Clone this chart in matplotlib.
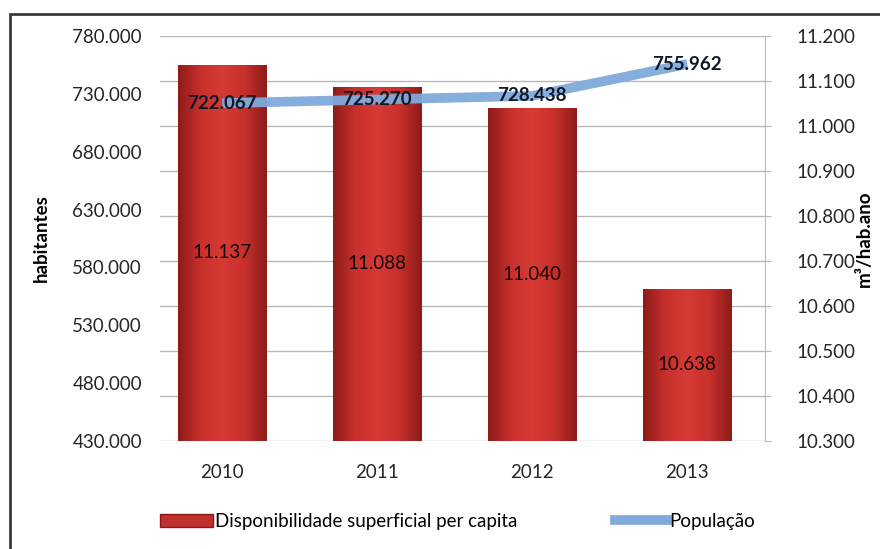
import matplotlib.pyplot as plt
import numpy as np
from matplotlib.colors import LinearSegmentedColormap
from matplotlib.patches import Rectangle, Patch
from matplotlib.lines import Line2D
from matplotlib.ticker import FuncFormatter

plt.rcParams['font.family'] = ['Lato', 'DejaVu Sans']

anos = ['2010', '2011', '2012', '2013']
populacao = [722067, 725270, 728438, 755962]
disponibilidade = [11137, 11088, 11040, 10638]


def pt(v, pos=None):
    # thousands separator with a dot
    return f'{int(round(v)):,}'.replace(',', '.')


fs = 13.5
fig = plt.figure(figsize=(8.8, 5.49), dpi=100)
ax = fig.add_axes([0.182, 0.197, 0.687, 0.737])
ax2 = ax.twinx()
ax.set_zorder(2)
ax.patch.set_visible(False)
ax2.set_zorder(1)

x = np.arange(len(anos))
w = 0.57

# bars with a horizontal shading, dark at the edges
cmap = LinearSegmentedColormap.from_list('bar', ['#8e1c19', '#c8302c', '#d63a35', '#c8302c', '#8e1c19'])
grad = np.linspace(0, 1, 64).reshape(1, -1)
bars = ax2.bar(x, disponibilidade, width=w, bottom=0, color='#c8302c',
               edgecolor='#8a1a18', linewidth=0.6, zorder=2)
for b in bars:
    im = ax2.imshow(grad, extent=[b.get_x(), b.get_x() + b.get_width(), 10300, b.get_height()],
                    cmap=cmap, aspect='auto', zorder=2.1, interpolation='bicubic')
    im.set_clip_path(b)

for xi, v in zip(x, disponibilidade):
    ax2.text(xi, (v + 10300) / 2, pt(v), ha='center', va='center', fontsize=fs, color='#120808', zorder=3)

ax2.set_ylim(10300, 11200)
ax2.set_yticks(np.arange(10300, 11201, 100))
ax2.yaxis.set_major_formatter(FuncFormatter(pt))
ax2.grid(axis='y', color='#b8b8b8', linewidth=1.0, zorder=0)
ax2.set_axisbelow(True)
ax2.tick_params(axis='y', length=4, color='#b8b8b8', pad=19, labelsize=fs, labelcolor='#262626')
ax2.set_ylabel('m³/hab.ano', fontsize=fs, fontweight='bold', rotation=90, labelpad=0)

# population line on the left axis
ax.plot(x, populacao, color='#80aadb', linewidth=7, solid_capstyle='butt', zorder=3, alpha=0.95)
for xi, v in zip(x, populacao):
    ax.text(xi, v, pt(v), ha='center', va='center', fontsize=fs, fontweight='bold',
            color='#101828', zorder=4)

ax.set_ylim(430000, 780000)
ax.set_yticks(np.arange(430000, 780001, 50000))
ax.yaxis.set_major_formatter(FuncFormatter(pt))
ax.tick_params(axis='y', length=0, pad=13, labelsize=fs, labelcolor='#262626')
ax.tick_params(axis='x', length=0, pad=17, labelsize=fs, labelcolor='#262626')
ax.set_ylabel('habitantes', fontsize=fs, fontweight='bold', labelpad=16)
ax.set_xticks(x)
ax.set_xticklabels(anos)
ax.set_xlim(-0.4, 3.5)
ax2.set_xlim(-0.4, 3.5)

for a in (ax, ax2):
    for s in ('top', 'left', 'bottom'):
        a.spines[s].set_visible(False)
ax.spines['right'].set_visible(False)
ax2.spines['right'].set_color('#b8b8b8')

# legend
handles = [Patch(facecolor='#c0302c', edgecolor='#8a1a18'),
           Line2D([0], [0], color='#80aadb', linewidth=7)]
fig.legend(handles, ['Disponibilidade superficial per capita', 'População'],
           loc='center', bbox_to_anchor=(0.52, 0.05), ncol=2, frameon=False,
           fontsize=fs, handlelength=2.8, handletextpad=0.1, columnspacing=5.2)

# outer frame
fig.patches.append(Rectangle((10 / 880, -0.1), 1.0, 1.1 - 14 / 549, transform=fig.transFigure,
                             fill=False, edgecolor='#3a3a3a', linewidth=2))

fig.savefig('out.png', dpi=100)
